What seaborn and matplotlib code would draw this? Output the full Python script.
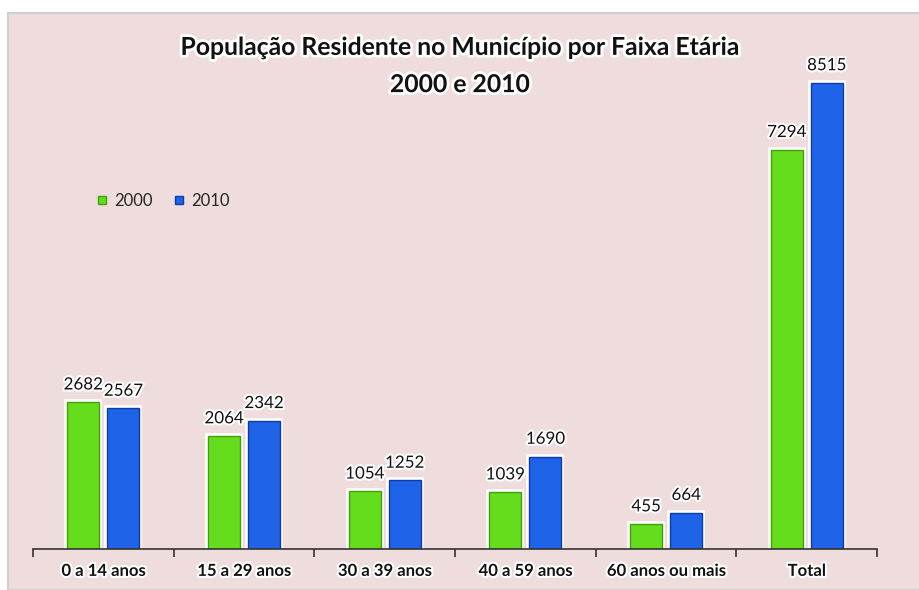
import numpy as np
import pandas as pd
import matplotlib
matplotlib.use("Agg")
import matplotlib.pyplot as plt
import matplotlib.patheffects as pe
from matplotlib.patches import Rectangle
import seaborn as sns

# data
faixas = ["0 a 14 anos", "15 a 29 anos", "30 a 39 anos", "40 a 59 anos", "60 anos ou mais", "Total"]
pop_2000 = [2682, 2064, 1054, 1039, 455, 7294]
pop_2010 = [2567, 2342, 1252, 1690, 664, 8515]
anos = ["2000", "2010"]
cores = ["#66DD1C", "#1F63E8"]
bordas = ["#3FA010", "#0E3CA8"]

df = pd.DataFrame({
    "faixa": faixas * 2,
    "ano": [anos[0]] * len(faixas) + [anos[1]] * len(faixas),
    "pop": pop_2000 + pop_2010,
})

sns.set_style("white")
fonte = ["Lato", "DejaVu Sans"]
plt.rcParams["font.family"] = fonte

bg = "#EFDCDD"
fig = plt.figure(figsize=(9.2, 5.9), dpi=100)
fig.patch.set_facecolor("white")
fig.patches.append(Rectangle((8 / 920, 0), 1, 1 - 13 / 590, transform=fig.transFigure,
                             facecolor=bg, edgecolor="#CFCFCF", linewidth=1.5, zorder=-5))

ax = fig.add_axes([33 / 920, 41 / 590, 844 / 920, 492.6 / 590])
ax.set_facecolor("none")
ax.set_zorder(2)

sns.barplot(data=df, x="faixa", y="pop", hue="ano", order=faixas, hue_order=anos,
            palette=cores, width=0.57, gap=0.2, ax=ax, legend=False, saturation=1)

glow = [pe.Stroke(linewidth=4, foreground="white"), pe.Normal()]
for cont, borda in zip(ax.containers, bordas):
    for bar in cont:
        bar.set_edgecolor(borda)
        bar.set_linewidth(1)
        bar.set_path_effects(glow)
    labels = ax.bar_label(cont, padding=7, fontsize=12.2, color="#111111")
    for t in labels:
        t.set_path_effects([pe.withStroke(linewidth=3, foreground="white")])

ax.set_ylim(0, 9000)
ax.set_xlim(-0.5, len(faixas) - 0.5)
ax.set_yticks([])
ax.set_xlabel("")
ax.set_ylabel("")
for s in ["top", "right", "left"]:
    ax.spines[s].set_visible(False)
ax.spines["bottom"].set_color("#333333")
ax.spines["bottom"].set_linewidth(1.2)

ax.set_xticks(np.arange(-0.5, len(faixas)), [""] * (len(faixas) + 1))
ax.tick_params(axis="x", which="major", bottom=True, length=6, width=1.2,
               color="#333333", direction="out")
ax.set_xticks(np.arange(len(faixas)), faixas, minor=True)
ax.tick_params(axis="x", which="minor", bottom=True, length=0, pad=10)
for t in ax.get_xticklabels(minor=True):
    t.set_fontweight("bold")
    t.set_fontsize(12)
    t.set_color("#111111")
    t.set_path_effects([pe.withStroke(linewidth=3, foreground="white")])

# legend
handles = [plt.Line2D([], [], marker="s", linestyle="", markersize=6,
                      markerfacecolor=c, markeredgecolor=b) for c, b in zip(cores, bordas)]
leg = ax.legend(handles, anos, loc="center left", bbox_to_anchor=(0.075, 0.706), ncol=2,
                frameon=False, handlelength=0.7, handletextpad=0.4, columnspacing=1.2,
                borderaxespad=0, borderpad=0, prop={"family": fonte, "size": 12})

fig.text(0.5, 1 - 66 / 590, "População Residente no Município por Faixa Etária\n2000 e 2010",
         ha="center", va="center", fontsize=17.8, fontweight="bold", linespacing=1.75,
         color="#111111",
         path_effects=[pe.withStroke(linewidth=4, foreground="white")])

fig.savefig("out.png", dpi=100, facecolor=fig.get_facecolor())
